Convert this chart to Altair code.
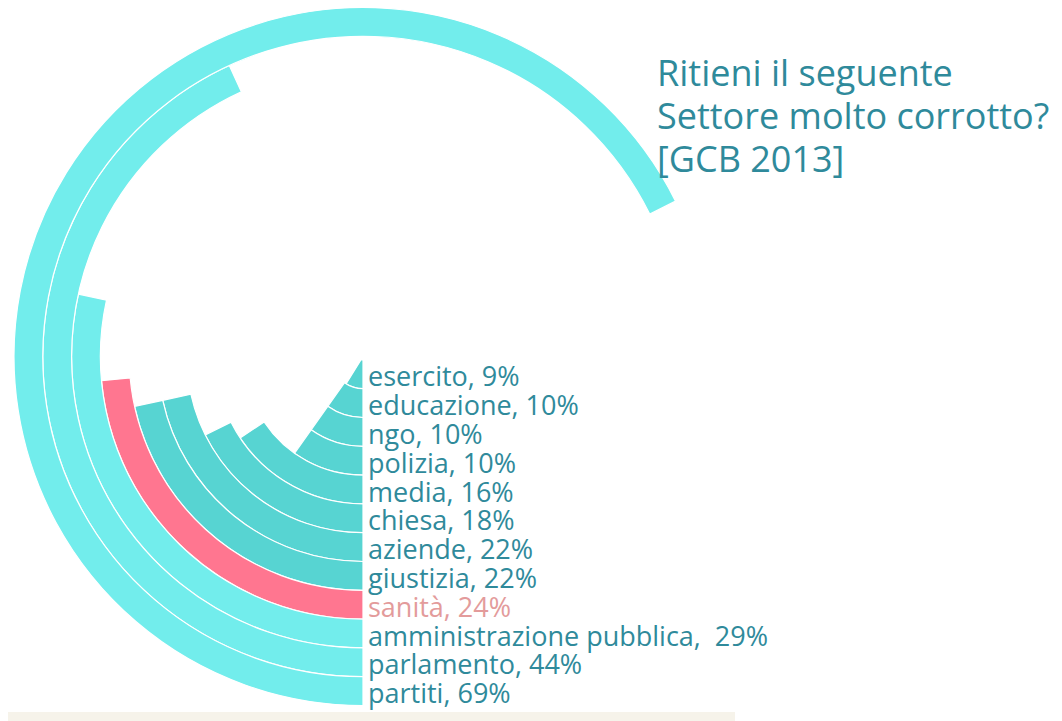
import math
import altair as alt
import pandas as pd

# data (innermost ring first)
settori = ["esercito", "educazione", "ngo", "polizia", "media", "chiesa",
           "aziende", "giustizia", "sanità", "amministrazione pubblica",
           "parlamento", "partiti"]
valori = [9, 10, 10, 10, 16, 18, 22, 22, 24, 29, 44, 69]
separatori = [", "] * 9 + [",\u00a0 "] + [", "] * 2
colori = ["#57D4D2"] * 8 + ["#FF7690"] + ["#72EDEC"] * 3
titolo = ["Ritieni il seguente", "Settore molto corrotto?", "[GCB 2013]"]

df = pd.DataFrame({
    "settore": settori,
    "valore": valori,
    "idx": list(range(len(settori))),
})
df["start"] = 0
df["r1"] = df["idx"] + 1
df["rm"] = df["idx"] + 0.5
df["label"] = [s + sep + str(v) + "%" for s, v, sep in zip(settori, valori, separatori)]

CX, CY = 355, 348.5
theta_scale = alt.Scale(domain=[0, 100], range=[math.pi, math.pi + math.radians(353)])
radius_scale = alt.Scale(type="linear", domain=[0, 12], range=[3.4, 349], zero=False)

base = alt.Chart(df)

arcs = base.mark_arc(stroke="white", strokeWidth=1.2).encode(
    x=alt.value(CX), y=alt.value(CY),
    theta=alt.Theta("start:Q", scale=theta_scale, stack=None),
    theta2="valore:Q",
    radius=alt.Radius("idx:Q", scale=radius_scale),
    radius2="r1:Q",
    color=alt.Color("settore:N", scale=alt.Scale(domain=settori, range=colori), legend=None),
)

labels = base.mark_text(align="left", baseline="middle", dx=5, dy=4, font="Open Sans",
                        fontSize=27).encode(
    x=alt.value(CX), y=alt.value(CY),
    theta=alt.value(math.pi),
    radius=alt.Radius("rm:Q", scale=radius_scale),
    text="label:N",
    color=alt.condition(alt.datum.settore == "sanità", alt.value("#E39B9B"), alt.value("#2F8A9B")),
)

title = alt.Chart(pd.DataFrame({"t": [0]})).mark_text(
    align="left", baseline="alphabetic", font="Open Sans", fontSize=36,
    lineHeight=43, color="#2F8A9B",
).encode(x=alt.value(649), y=alt.value(78), text=alt.value(titolo))

strip = alt.Chart(pd.DataFrame({"t": [0]})).mark_rect(color="#F6F3EA").encode(
    x=alt.value(0), x2=alt.value(727), y=alt.value(704), y2=alt.value(713)
)

chart = alt.layer(strip, arcs, labels, title).properties(
    width=1046, height=713, padding=0, autosize=alt.AutoSizeParams(type="none")
).configure_view(stroke=None)

chart.save("out.html", embed_options={"renderer": "svg", "actions": False})
